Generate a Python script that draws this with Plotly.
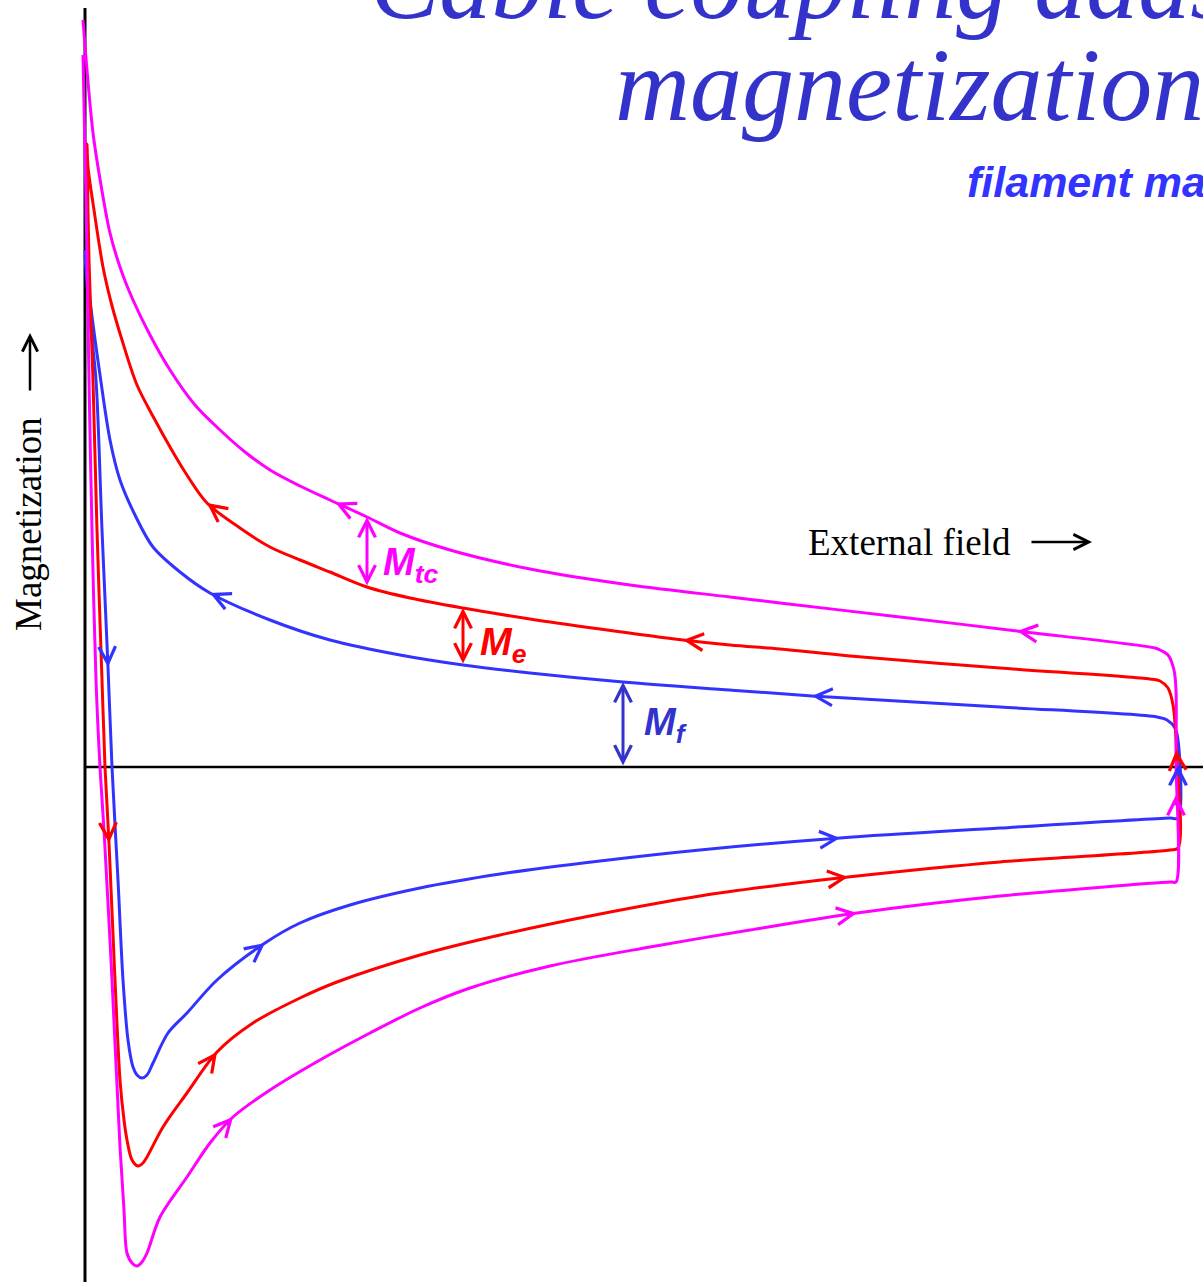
import numpy as np
import plotly.graph_objects as go

# ---------------- data (field H, magnetization M; arbitrary units) ----------------
# Each loop is listed in sweep order: fast ramp down, minimum, rising branch,
# field reversal at the right, returning branch back to the top left.

# total magnetization (filament + eddy + transverse coupling) - magenta
H_tc = [-0.2, 0.1, 0.4, 0.7, 1.1, 1.5, 1.9, 2.7, 3.5, 3.9, 4.2, 4.7, 5.2, 5.7, 6.2,
        7.5, 10.2, 12.5, 14.8, 18.5, 23.5, 28.5, 33.5, 38.5, 46.5, 56.5, 66.5, 77.2,
        91.5, 108.6, 109.1, 109.1, 109.1, 108.9, 108.3, 107.5,
        107.0, 93.2, 81.5, 69.5, 64.5, 54.5, 44.5, 36.5, 31.5, 28.2, 24.5, 21.5, 18.5,
        16.0, 13.5, 11.0, 8.5, 6.5, 4.8, 3.6, 2.5, 1.6, 0.8, 0.2, -0.2]
M_tc = [71.2, 56.7, 38.7, 23.7, 8.7, 0.0, -6.3, -21.3, -38.0, -44.3, -48.6, -49.6, -49.9, -49.5, -48.6,
        -45.0, -41.0, -37.6, -35.0, -32.3, -29.3, -26.6, -24.1, -22.1, -19.9, -18.0, -16.3, -14.6,
        -12.9, -11.5, -11.5, 0.7, 7.7, 9.7, 11.2, 11.7,
        11.9, 13.6, 15.0, 16.4, 17.0, 18.2, 19.8, 21.7, 23.4, 25.0, 26.7, 28.1, 29.7,
        31.5, 33.7, 36.2, 39.7, 43.2, 46.7, 49.7, 53.4, 58.2, 63.4, 69.7, 74.7]

# filament + eddy (inter-strand coupling) magnetization - red
H_e = [0.2, 0.4, 0.8, 1.2, 1.7, 2.0, 2.4, 3.0, 3.5, 3.9, 4.2, 4.7, 5.3, 5.8, 6.2,
       7.8, 10.2, 13.2, 16.8, 21.5, 25.2, 33.5, 41.5, 51.5, 61.5, 69.5, 76.3, 91.5,
       108.5, 109.3, 109.2, 108.8, 108.3, 107.5,
       106.5, 91.5, 76.5, 69.5, 64.5, 59.8, 51.5, 44.5, 37.8, 32.5, 28.2, 24.5, 21.5,
       18.5, 15.5, 12.2, 10.0, 8.5, 7.0, 5.2, 3.7, 2.6, 1.8, 0.9, 0.3, 0.2]
M_e = [62.3, 50.7, 38.7, 23.7, 8.7, 0.0, -7.6, -21.3, -31.3, -35.3, -37.3, -39.3, -39.9, -39.6, -39.0,
       -36.0, -32.6, -28.5, -25.6, -23.1, -21.5, -18.8, -16.8, -14.7, -12.9, -11.8, -11.0, -9.5,
       -8.3, -8.1, 0.7, 6.2, 7.9, 8.6,
       8.8, 9.9, 11.1, 11.8, 12.2, 12.7, 13.8, 14.8, 15.9, 16.9, 18.0, 19.5, 20.7,
       22.0, 23.9, 26.4, 29.5, 32.0, 34.7, 38.2, 42.7, 46.5, 50.0, 55.7, 60.0, 62.3]

# filament magnetization - blue
H_f = [0.0, 0.5, 1.1, 1.7, 2.3, 2.7, 3.3, 3.8, 4.3, 4.8, 5.2, 5.7, 6.2, 6.8,
       8.3, 10.2, 13.2, 18.0, 21.5, 26.5, 33.5, 41.5, 51.5, 61.5, 75.5, 91.5,
       108.5, 109.3, 109.3, 109.0, 108.2,
       107.2, 91.5, 72.7, 64.5, 53.8, 44.5, 37.8, 31.5, 24.5, 18.5, 12.5, 9.5,
       6.8, 5.0, 3.5, 2.5, 1.5, 0.5, 0.0]
M_f = [51.2, 44.7, 38.7, 23.7, 10.0, 0.0, -11.3, -21.3, -27.3, -30.0, -30.8, -31.1, -30.8, -29.6,
       -26.6, -24.6, -21.3, -17.6, -15.6, -13.8, -12.1, -10.7, -9.4, -8.3, -7.1, -6.1,
       -5.1, -5.1, 2.7, 3.9, 4.7,
       5.0, 6.0, 7.1, 7.7, 8.5, 9.4, 10.2, 11.2, 12.7, 14.7, 17.4, 19.5,
       22.0, 25.2, 28.7, 32.7, 39.2, 46.7, 51.7]

# direction-arrow positions along each loop (approximate tip location, H, M)
ARROWS_TC = [(25.0, 26.4), (93.2, 13.6), (14.8, -35.0), (77.2, -14.6), (109.1, -2.8)]
ARROWS_E = [(12.2, 26.4), (59.8, 12.7), (2.4, -7.6), (13.2, -28.5), (76.3, -11.0), (109.2, 1.7)]
ARROWS_F = [(12.5, 17.4), (72.7, 7.1), (2.3, 10.0), (18.0, -17.6), (75.5, -7.1), (109.3, 0.2)]

# field values where the contributions are marked
H_MARK_TC = 28.2
H_MARK_E = 37.8
H_MARK_F = 53.8

MAGENTA = "#FF00FF"
RED = "#FF0000"
BLUE = "#3333FF"
DARKBLUE = "#3333CC"

W, HGT = 1203, 1282
XR = [-8.5, 111.8]
YR = [-51.5, 76.7]
SX = W / (XR[1] - XR[0])
SY = HGT / (YR[1] - YR[0])

fig = go.Figure()

# axes
fig.add_shape(type="line", x0=0, x1=0, y0=YR[0], y1=75.9, line=dict(color="black", width=3), layer="below")
fig.add_shape(type="line", x0=0, x1=XR[1], y0=0, y1=0, line=dict(color="black", width=2.5), layer="below")

for hs, ms, col in [(H_f, M_f, BLUE), (H_e, M_e, RED), (H_tc, M_tc, MAGENTA)]:
    fig.add_trace(go.Scatter(x=hs, y=ms, mode="lines",
                             line=dict(color=col, width=3, shape="spline", smoothing=0.9),
                             hoverinfo="skip", showlegend=False))


def project(hs, ms, h0, m0):
    P = np.column_stack([np.array(hs) * SX, -np.array(ms) * SY])
    q = np.array([h0 * SX, -m0 * SY])
    best = None
    for i in range(len(P) - 1):
        a, b = P[i], P[i + 1]
        d = b - a
        L2 = float(d @ d)
        if L2 == 0:
            continue
        t = float(np.clip((q - a) @ d / L2, 0, 1))
        p = a + t * d
        dist = float(np.linalg.norm(q - p))
        if best is None or dist < best[0]:
            best = (dist, p, d / np.sqrt(L2))
    _, p, u = best
    return p[0] / SX, -p[1] / SY, u


annotations = []
for hs, ms, arrows, col in [(H_tc, M_tc, ARROWS_TC, MAGENTA), (H_e, M_e, ARROWS_E, RED),
                            (H_f, M_f, ARROWS_F, BLUE)]:
    for (h0, m0) in arrows:
        xh, ym, u = project(hs, ms, h0, m0)
        L = 12
        annotations.append(dict(x=xh, y=ym, xref="x", yref="y", text="", showarrow=True,
                                ax=-u[0] * L, ay=-u[1] * L, axref="pixel", ayref="pixel",
                                arrowhead=5, arrowsize=1.1, arrowwidth=3, arrowcolor=col,
                                standoff=0))


def upper_branch(hs, ms):
    hs = np.array(hs); ms = np.array(ms)
    # upper (returning) branch: points moving left with positive magnetization
    idx = [i for i in range(1, len(hs)) if hs[i] < hs[i - 1] and ms[i] > 0 and hs[i] > 5]
    return hs[idx][::-1], ms[idx][::-1]


def m_at(hs, ms, h):
    hu, mu = upper_branch(hs, ms)
    return float(np.interp(h, hu, mu))


dims = [
    (H_MARK_TC, m_at(H_tc, M_tc, H_MARK_TC), m_at(H_e, M_e, H_MARK_TC), MAGENTA),
    (H_MARK_E, m_at(H_e, M_e, H_MARK_E), m_at(H_f, M_f, H_MARK_E), RED),
    (H_MARK_F, m_at(H_f, M_f, H_MARK_F), 0.0, DARKBLUE),
]
for h, mtop, mbot, col in dims:
    annotations.append(dict(x=h, y=mtop, xref="x", yref="y", text="", showarrow=True,
                            ax=h, ay=mbot, axref="x", ayref="y", arrowside="end+start",
                            arrowhead=5, startarrowhead=5, arrowsize=1.1, startarrowsize=1.1,
                            arrowwidth=3, arrowcolor=col, standoff=0, startstandoff=0))

lab_font = dict(family="Liberation Sans, Arial", size=38, weight="bold", style="italic")
annotations += [
    dict(x=29.6, y=20.2, xref="x", yref="y", text="M<sub>tc</sub>", showarrow=False,
         xanchor="left", yanchor="middle", font=dict(lab_font, color=MAGENTA)),
    dict(x=39.3, y=12.2, xref="x", yref="y", text="M<sub>e</sub>", showarrow=False,
         xanchor="left", yanchor="middle", font=dict(lab_font, color=RED)),
    dict(x=55.7, y=4.2, xref="x", yref="y", text="M<sub>f</sub>", showarrow=False,
         xanchor="left", yanchor="middle", font=dict(lab_font, color=DARKBLUE)),
]

serif = "Liberation Serif, Times New Roman, serif"
annotations += [
    dict(x=92.8, y=22.5, xref="x", yref="y", text="External field", showarrow=False,
         xanchor="right", yanchor="middle", font=dict(family=serif, size=37, color="black")),
    dict(x=100.7, y=22.5, xref="x", yref="y", text="", showarrow=True, ax=94.5, ay=22.5,
         axref="x", ayref="y", arrowhead=5, arrowsize=1.2, arrowwidth=2.5, arrowcolor="black",
         standoff=0),
    dict(x=-5.7, y=24.3, xref="x", yref="y", text="Magnetization", showarrow=False,
         textangle=-90, xanchor="center", yanchor="middle",
         font=dict(family=serif, size=37, color="black")),
    dict(x=-5.5, y=43.4, xref="x", yref="y", text="", showarrow=True, ax=-5.5, ay=37.5,
         axref="x", ayref="y", arrowhead=5, arrowsize=1.2, arrowwidth=2.5, arrowcolor="black",
         standoff=0),
]

# titles (paper coordinates; partly outside the picture like the reference)
annotations += [
    dict(x=368 / W, y=1 - (17 - 35) / HGT, xref="paper", yref="paper", text="Cable coupling adds",
         showarrow=False, xanchor="left", yanchor="middle",
         font=dict(family=serif, size=104, color=DARKBLUE, style="italic")),
    dict(x=613 / W, y=1 - (120 - 35) / HGT, xref="paper", yref="paper", text="magnetization",
         showarrow=False, xanchor="left", yanchor="middle",
         font=dict(family=serif, size=104, color=DARKBLUE, style="italic")),
    dict(x=965 / W, y=1 - (197 - 15) / HGT, xref="paper", yref="paper", text="filament magnetization",
         showarrow=False, xanchor="left", yanchor="middle",
         font=dict(family="Liberation Sans, Arial", size=43, color=BLUE, weight="bold", style="italic")),
]

fig.update_layout(
    width=W, height=HGT, margin=dict(l=0, r=0, t=0, b=0),
    paper_bgcolor="white", plot_bgcolor="white", showlegend=False,
    xaxis=dict(range=XR, visible=False, fixedrange=True),
    yaxis=dict(range=YR, visible=False, fixedrange=True),
    annotations=annotations,
)

fig.write_html("out.html", config={"displayModeBar": False},
               post_script="document.body.style.margin='0';")
